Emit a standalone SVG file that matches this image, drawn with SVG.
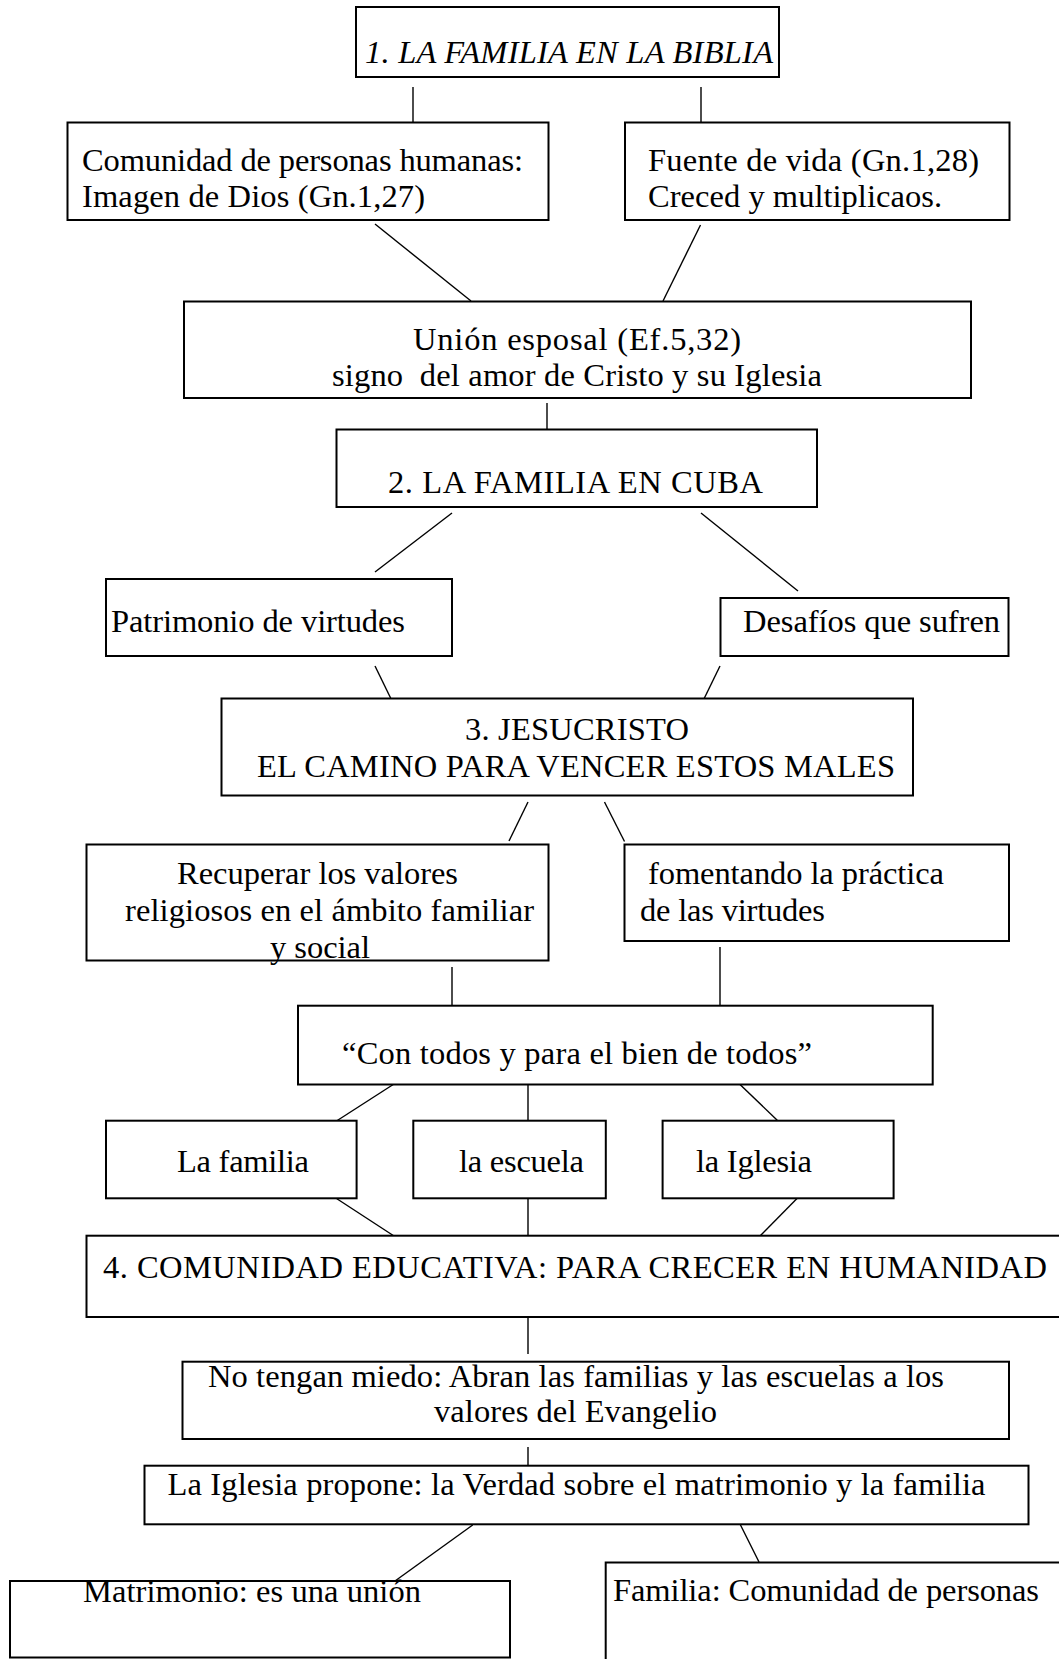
<svg xmlns="http://www.w3.org/2000/svg" width="1059" height="1659" viewBox="0 0 1059 1659">
<style>
.box{fill:#fff;stroke:#000;stroke-width:2}
.t{font-family:"Liberation Serif","Times New Roman",serif;font-size:32.5px;fill:#000}
.it{font-style:italic}
.ln{stroke:#000;stroke-width:1.4;fill:none}
</style>
<rect width="1059" height="1659" fill="#fff"/>
<g id="connectors">
<line class="ln" x1="413" y1="87" x2="413" y2="125"/>
<line class="ln" x1="701" y1="87" x2="701" y2="125"/>
<line class="ln" x1="375" y1="224" x2="471" y2="301"/>
<line class="ln" x1="700.5" y1="225" x2="663" y2="301"/>
<line class="ln" x1="547" y1="403" x2="547" y2="430"/>
<line class="ln" x1="452" y1="513" x2="375" y2="572"/>
<line class="ln" x1="701" y1="513" x2="798" y2="591"/>
<line class="ln" x1="375" y1="666" x2="394" y2="705"/>
<line class="ln" x1="720" y1="666" x2="701" y2="705"/>
<line class="ln" x1="528" y1="802" x2="509" y2="841"/>
<line class="ln" x1="604.5" y1="802" x2="624.5" y2="841.5"/>
<line class="ln" x1="452" y1="967" x2="452" y2="1005"/>
<line class="ln" x1="720" y1="947" x2="720" y2="1005"/>
<line class="ln" x1="394" y1="1084" x2="336.5" y2="1121"/>
<line class="ln" x1="528" y1="1084" x2="528" y2="1121"/>
<line class="ln" x1="739.5" y1="1084" x2="778" y2="1121"/>
<line class="ln" x1="336.5" y1="1198.5" x2="394" y2="1236"/>
<line class="ln" x1="528" y1="1198.5" x2="528" y2="1236"/>
<line class="ln" x1="797" y1="1198.5" x2="760" y2="1236"/>
<line class="ln" x1="528" y1="1316" x2="528" y2="1354"/>
<line class="ln" x1="528" y1="1447" x2="528" y2="1466"/>
<line class="ln" x1="472.7" y1="1525" x2="395" y2="1581"/>
<line class="ln" x1="740" y1="1524" x2="759" y2="1562"/>
</g>
<g id="n1"><rect class="box" x="356" y="7" width="423" height="70"/><text class="t it" x="365" y="63" textLength="408" lengthAdjust="spacing">1. LA FAMILIA EN LA BIBLIA</text></g>
<g id="n2a"><rect class="box" x="67.5" y="122.5" width="481" height="97.5"/><text class="t" x="82" y="171" textLength="441" lengthAdjust="spacing">Comunidad de personas humanas:</text><text class="t" x="82" y="207" textLength="343" lengthAdjust="spacing">Imagen de Dios (Gn.1,27)</text></g>
<g id="n2b"><rect class="box" x="625" y="122.5" width="384.5" height="97.5"/><text class="t" x="648" y="171" textLength="331" lengthAdjust="spacing">Fuente de vida (Gn.1,28)</text><text class="t" x="648" y="207" textLength="294" lengthAdjust="spacing">Creced y multiplicaos.</text></g>
<g id="n3"><rect class="box" x="184" y="301.5" width="787" height="96.5"/><text class="t" x="413" y="350" textLength="328" lengthAdjust="spacing">Unión esposal (Ef.5,32)</text><text class="t" x="332" y="386" xml:space="preserve" textLength="490" lengthAdjust="spacing">signo  del amor de Cristo y su Iglesia</text></g>
<g id="n4"><rect class="box" x="336.5" y="429.5" width="480.5" height="77.5"/><text class="t" x="388" y="493" textLength="375" lengthAdjust="spacing">2. LA FAMILIA EN CUBA</text></g>
<g id="n5a"><rect class="box" x="106" y="579" width="346" height="77"/><text class="t" x="111" y="632" textLength="294" lengthAdjust="spacing">Patrimonio de virtudes</text></g>
<g id="n5b"><rect class="box" x="720.5" y="598" width="288" height="58"/><text class="t" x="743" y="632" textLength="257" lengthAdjust="spacing">Desafíos que sufren</text></g>
<g id="n6"><rect class="box" x="221.5" y="698.5" width="691.5" height="97"/><text class="t" x="465" y="740" textLength="224" lengthAdjust="spacing">3. JESUCRISTO</text><text class="t" x="257" y="777" textLength="638" lengthAdjust="spacing">EL CAMINO PARA VENCER ESTOS MALES</text></g>
<g id="n7a"><rect class="box" x="86.5" y="844.5" width="462" height="116"/><text class="t" x="177" y="884" textLength="281" lengthAdjust="spacing">Recuperar los valores</text><text class="t" x="125" y="921" textLength="409" lengthAdjust="spacing">religiosos en el ámbito familiar</text><text class="t" x="270" y="958" textLength="100" lengthAdjust="spacing">y social</text></g>
<g id="n7b"><rect class="box" x="624.5" y="844.5" width="384.5" height="96.5"/><text class="t" x="648" y="884" textLength="296" lengthAdjust="spacing">fomentando la práctica</text><text class="t" x="640" y="921" textLength="185" lengthAdjust="spacing">de las virtudes</text></g>
<g id="n8"><rect class="box" x="298" y="1005.7" width="634.7" height="78.8"/><text class="t" x="342" y="1064" textLength="470" lengthAdjust="spacing">“Con todos y para el bien de todos”</text></g>
<g id="n9a"><rect class="box" x="106" y="1120.7" width="250.6" height="77.6"/><text class="t" x="177" y="1172" textLength="132" lengthAdjust="spacing">La familia</text></g>
<g id="n9b"><rect class="box" x="413.3" y="1120.7" width="192.5" height="77.6"/><text class="t" x="459" y="1172" textLength="125" lengthAdjust="spacing">la escuela</text></g>
<g id="n9c"><rect class="box" x="662.6" y="1120.7" width="231" height="77.6"/><text class="t" x="696" y="1172" textLength="116" lengthAdjust="spacing">la Iglesia</text></g>
<g id="n10"><rect class="box" x="86.5" y="1235.7" width="990" height="81.3"/><text class="t" x="103" y="1278" textLength="944" lengthAdjust="spacing">4. COMUNIDAD EDUCATIVA: PARA CRECER EN HUMANIDAD</text></g>
<g id="n11"><rect class="box" x="182.5" y="1361.7" width="826.5" height="77.3"/><text class="t" x="208" y="1387" textLength="736" lengthAdjust="spacing">No tengan miedo: Abran las familias y las escuelas a los</text><text class="t" x="434" y="1422" textLength="283" lengthAdjust="spacing">valores del Evangelio</text></g>
<g id="n12"><rect class="box" x="144.5" y="1465.7" width="884" height="58.6"/><text class="t" x="167.5" y="1495" textLength="818" lengthAdjust="spacing">La Iglesia propone: la Verdad sobre el matrimonio y la familia</text></g>
<g id="n13a"><rect class="box" x="10" y="1581" width="500" height="76.5"/><text class="t" x="83" y="1602" textLength="338" lengthAdjust="spacing">Matrimonio: es una unión</text></g>
<g id="n13b"><rect class="box" x="605.7" y="1562.5" width="470" height="110"/><text class="t" x="613" y="1601" textLength="426" lengthAdjust="spacing">Familia: Comunidad de personas</text></g>
</svg>
